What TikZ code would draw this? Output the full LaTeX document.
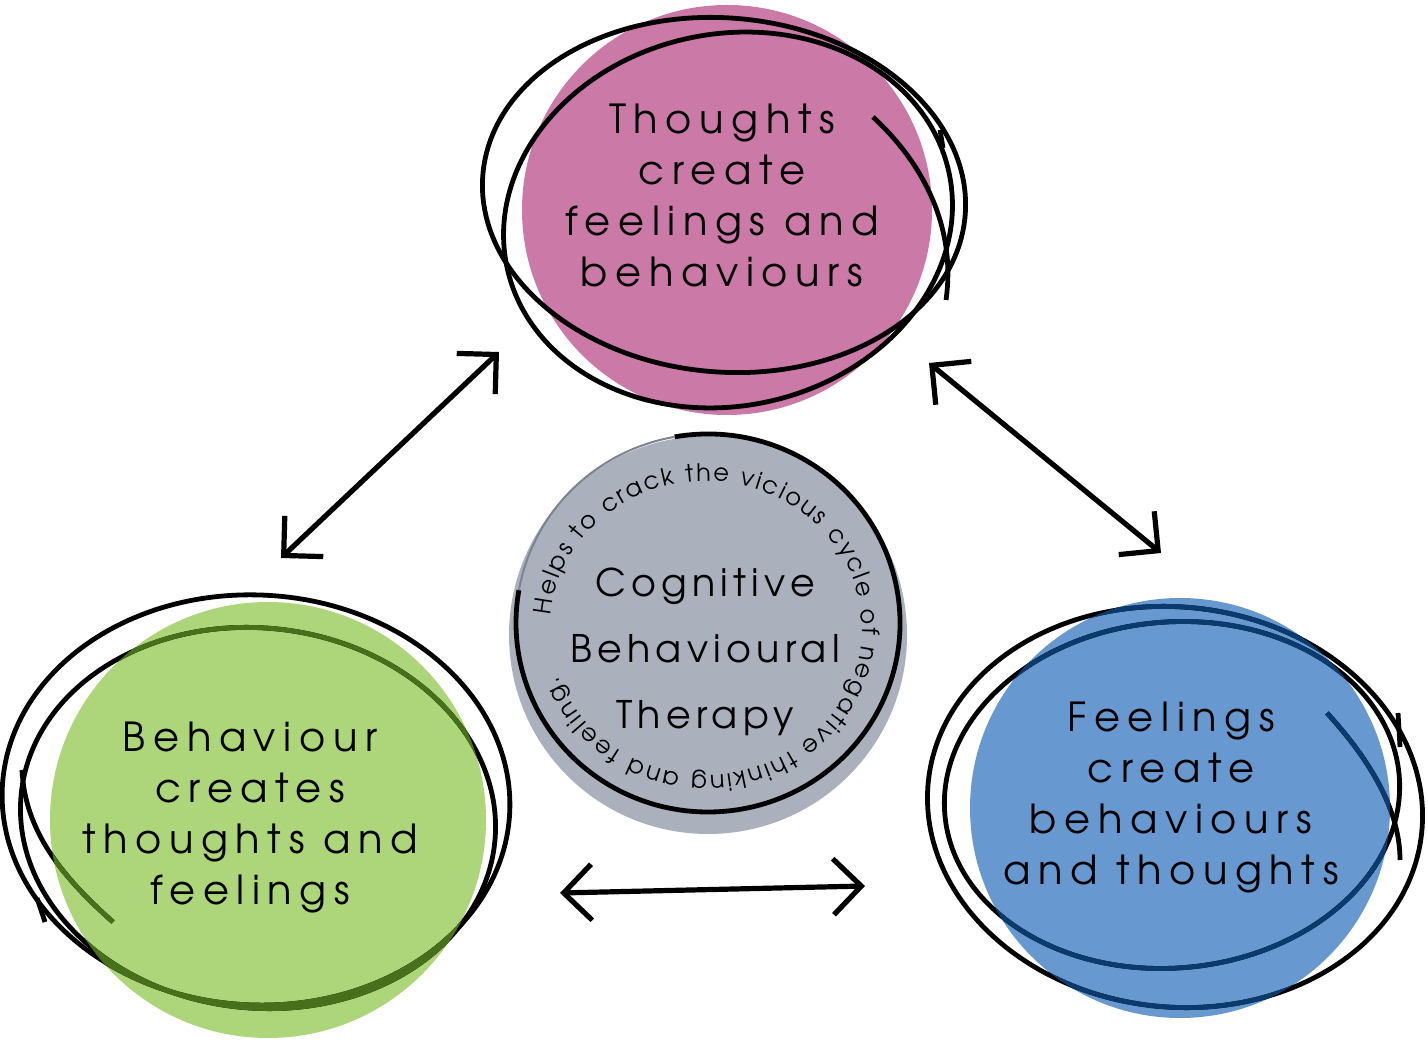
\documentclass[tikz,border=0pt]{standalone}
\usepackage{fontspec}
\setmainfont{TeX Gyre Adventor}
\newfontfamily\roundfont[LetterSpace=19]{TeX Gyre Adventor}
\newfontfamily\cbtfont[LetterSpace=14]{TeX Gyre Adventor}
\usetikzlibrary{arrows.meta, decorations.text}

\definecolor{thoughtpink}{HTML}{CB79A6}
\definecolor{behavegreen}{HTML}{ADD57A}
\definecolor{behavedark}{HTML}{46701A}
\definecolor{feelblue}{HTML}{6799D0}
\definecolor{feeldark}{HTML}{0B3B6E}
\definecolor{cbtgrey}{HTML}{AAB1BC}
\definecolor{cbtedge}{HTML}{7D848D}

\newcommand\curvefont{\fontsize{12}{14}\selectfont}
% one hand drawn ring: centre x, centre y, x radius, y radius, tilt
\newcommand\scrawl[5]{\draw[scribble, rotate around={#5:(#1,#2)}] (#1,#2) ellipse [x radius=#3, y radius=#4];}

\tikzset{
  blob/.style={circle, inner sep=0pt, minimum size=#1},
  scribble/.style={line width=2.4pt},
  caption/.style={align=center, font=\roundfont\fontsize{20}{25.5}\selectfont},
  twoway/.style={line width=2.6pt, line cap=round,
    {Straight Barb[length=14pt,width=28pt]}-{Straight Barb[length=14pt,width=28pt]}}
}

\begin{document}
\begin{tikzpicture}[x=0.5pt, y=0.5pt]
  \useasboundingbox (0,0) rectangle (1428,1044);

  % thoughts
  \node[blob=205pt, fill=thoughtpink] (thoughts) at (727,834) {};
  \scrawl{724}{849}{242}{177}{-5}
  \scrawl{728}{824}{226}{186}{12}
  \draw[scribble] (873,927) .. controls (925,879) and (956,815) .. (946,744);
  \draw[scribble] (940,914) -- (943,896);
  \node[caption] (thoughts-text) at (722,849) {Thoughts\\create\\feelings and\\behaviours};

  % behaviour
  \node[blob=218pt, fill=behavegreen] (behaviour) at (268,224) {};
  \scrawl{256}{244}{254}{205}{-3}
  \scrawl{258}{226}{238}{190}{-6}
  \draw[scribble] (113,122) .. controls (60,169) and (25,214) .. (22,274);
  \draw[scribble] (37,146) -- (45,122);
  \begin{scope}[color=behavedark]
    \clip (268,224) circle [radius=218];
    \scrawl{256}{244}{254}{205}{-3}
    \scrawl{258}{226}{238}{190}{-6}
    \draw[scribble] (113,122) .. controls (60,169) and (25,214) .. (22,274);
  \end{scope}
  \node[caption] (behaviour-text) at (250,226) {Behaviour\\creates\\thoughts and\\feelings};

  % feelings
  \node[blob=210pt, fill=feelblue] (feelings) at (1180,236) {};
  \scrawl{1175}{237}{248}{200}{-6}
  \scrawl{1172}{249}{228}{173}{5}
  \draw[scribble] (1327,331) .. controls (1370,284) and (1400,234) .. (1400,184);
  \draw[scribble] (1398,331) -- (1400,297);
  \begin{scope}[color=feeldark]
    \clip (1180,236) circle [radius=210];
    \scrawl{1175}{237}{248}{200}{-6}
    \scrawl{1172}{249}{228}{173}{5}
    \draw[scribble] (1327,331) .. controls (1370,284) and (1400,234) .. (1400,184);
  \end{scope}
  \node[caption] (feelings-text) at (1171,246) {Feelings\\create\\behaviours\\and thoughts};

  % cbt in the middle
  \node[blob=199pt, fill=cbtgrey] (cbt) at (708,409) {};
  \draw[line width=2.4pt] (708,421) ++(100:192 and 189)
    arc [start angle=100, end angle=-190, x radius=192, y radius=189];
  \draw[line width=1pt, cbtedge] (708,421) ++(170:192 and 189)
    arc [start angle=170, end angle=100, x radius=192, y radius=189];
  \path[decorate, decoration={text along path, text align={fit to path},
      text={|\curvefont|Helps to crack the vicious cycle of negative thinking and feeling.}}]
    (706,416) ++(175:156 and 147)
    arc [start angle=175, end angle=-161, x radius=156, y radius=147];
  \node[align=center, font=\cbtfont\fontsize{19}{33}\selectfont] (cbt-text) at (705,392)
    {Cognitive\\Behavioural\\Therapy};

  % arrows
  \coordinate (tb-low) at (281,486);
  \coordinate (tb-high) at (499,692);
  \coordinate (tf-high) at (929,681);
  \coordinate (tf-low) at (1161,491);
  \coordinate (bf-left) at (560,151);
  \coordinate (bf-right) at (865,158);
  \draw[twoway] (tb-low) -- (tb-high);
  \draw[twoway] (tf-high) -- (tf-low);
  \draw[twoway] (bf-left) -- (bf-right);
\end{tikzpicture}
\end{document}
